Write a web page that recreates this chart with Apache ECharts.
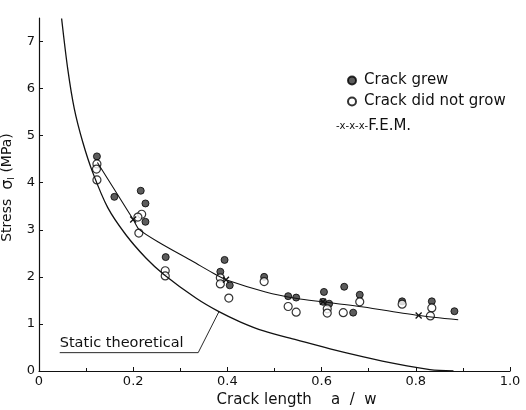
<!DOCTYPE html>
<html>
<head>
<meta charset="utf-8">
<script src="https://cdn.jsdelivr.net/npm/echarts@6/dist/echarts.min.js"></script>
<style>
  html, body { margin: 0; background: #fff; }
  #chart { width: 526px; height: 410px; }
</style>
</head>
<body>
<div id="chart"></div>
<script>
// crack grew (filled dots)
var grewA = [0.123, 0.160, 0.216, 0.226, 0.226, 0.269, 0.394, 0.385, 0.405, 0.478, 0.529, 0.546, 0.605, 0.603, 0.616, 0.648, 0.681, 0.667, 0.771, 0.834, 0.882]
var grewS = [4.56, 3.70, 3.83, 3.56, 3.17, 2.42, 2.36, 2.11, 1.82, 2.00, 1.59, 1.56, 1.68, 1.47, 1.43, 1.79, 1.62, 1.24, 1.48, 1.48, 1.27]
// crack did not grow (open dots)
var notA = [0.123, 0.122, 0.123, 0.218, 0.210, 0.212, 0.268, 0.268, 0.385, 0.385, 0.403, 0.478, 0.529, 0.546, 0.612, 0.612, 0.646, 0.681, 0.771, 0.834, 0.831]
var notS = [4.40, 4.29, 4.06, 3.33, 3.27, 2.93, 2.13, 2.02, 1.98, 1.85, 1.55, 1.90, 1.37, 1.25, 1.32, 1.23, 1.24, 1.47, 1.42, 1.34, 1.17]
// F.E.M. curve, x marks at femMarkA
var femA = [0.124, 0.200, 0.2125, 0.255, 0.326, 0.375, 0.397, 0.481, 0.548, 0.603, 0.689, 0.806, 0.890]
var femS = [4.43, 3.22, 3.01, 2.73, 2.33, 2.05, 1.94, 1.68, 1.54, 1.47, 1.36, 1.18, 1.09]
var femMarkA = [0.200, 0.397, 0.603, 0.806]
// static theoretical curve
var staticA = [0.048, 0.061, 0.075, 0.093, 0.114, 0.146, 0.184, 0.227, 0.265, 0.333, 0.382, 0.428, 0.477, 0.547, 0.618, 0.689, 0.759, 0.830, 0.880]
var staticS = [7.49, 6.42, 5.57, 4.86, 4.22, 3.47, 2.90, 2.40, 2.05, 1.55, 1.26, 1.04, 0.85, 0.66, 0.47, 0.30, 0.15, 0.03, 0.00]
// leader line for the "Static theoretical" label
var leaderA = [0.044, 0.338, 0.382]
var leaderS = [0.39, 0.39, 1.26]
var yTicks = [0, 1, 2, 3, 4, 5, 6, 7]

var font = 'DejaVu Sans'
var pairs = function (xs, ys) { return xs.map(function (x, i) { return [x, ys[i]] }) }

var chart = echarts.init(document.getElementById('chart'))
var option = {
  backgroundColor: '#fff',
  animation: false,
  textStyle: { fontFamily: font, color: '#111' },
  grid: { left: 39, right: 16, top: 18, bottom: 39, outerBoundsMode: 'none', containLabel: false },
  legend: [{
    data: ['Crack grew', 'Crack did not grow'],
    orient: 'vertical',
    left: 342,
    top: 68,
    itemWidth: 14,
    itemHeight: 8,
    itemGap: 6,
    textStyle: { fontFamily: font, fontSize: 15, color: '#111' }
  }, {
    data: [{ name: 'F.E.M.', icon: 'none' }],
    left: 326,
    top: 114,
    itemWidth: 0,
    formatter: '{s|-x-x-x-}{name}',
    textStyle: {
      fontFamily: font, fontSize: 15, color: '#111',
      rich: { s: { fontFamily: font, fontSize: 10, color: '#111' } }
    }
  }],
  xAxis: {
    type: 'value',
    min: 0,
    max: 1,
    interval: 0.2,
    name: 'Crack length    a  /  w',
    nameLocation: 'middle',
    nameGap: 12,
    nameTextStyle: { fontFamily: font, fontSize: 15, color: '#111', padding: [0, 0, 0, 44] },
    axisLine: { lineStyle: { color: '#111', width: 1.2 } },
    axisTick: { inside: true, length: 4, lineStyle: { color: '#111' } },
    minorTick: { show: true, splitNumber: 2, length: 3, lineStyle: { color: '#111' } },
    axisLabel: {
      margin: 4,
      fontFamily: font, fontSize: 13, color: '#111',
      formatter: function (v) { return v === 0 ? '0' : v.toFixed(1) }
    },
    splitLine: { show: false }
  },
  yAxis: {
    type: 'value',
    min: 0,
    max: 7.5,
    name: 'Stress  {g|σ}{sub|I} (MPa)',
    nameLocation: 'middle',
    nameRotate: 90,
    nameGap: 19,
    nameTextStyle: {
      fontFamily: font, fontSize: 14, color: '#111', padding: [0, 0, 0, 14],
      rich: { g: { fontFamily: font, fontSize: 16, color: '#111' }, sub: { fontFamily: font, fontSize: 9, color: '#111', verticalAlign: 'bottom' } }
    },
    axisLine: { show: true, lineStyle: { color: '#111', width: 1.2 } },
    axisTick: { show: true, inside: true, length: 4, customValues: yTicks, lineStyle: { color: '#111' } },
    axisLabel: { margin: 4, fontFamily: font, fontSize: 13, color: '#111', customValues: yTicks },
    splitLine: { show: false }
  },
  series: [{
    name: 'Static theoretical',
    type: 'line',
    data: pairs(staticA, staticS),
    smooth: 0.3,
    symbol: 'none',
    lineStyle: { color: '#111', width: 1.3 },
    silent: true
  }, {
    name: 'leader',
    type: 'line',
    data: pairs(leaderA, leaderS),
    symbol: 'none',
    lineStyle: { color: '#111', width: 0.9 },
    silent: true
  }, {
    name: 'F.E.M.',
    type: 'line',
    data: femA.map(function (a, i) {
      return femMarkA.indexOf(a) >= 0 ? { value: [a, femS[i]] } : { value: [a, femS[i]], symbol: 'none' }
    }),
    smooth: 0.25,
    symbol: 'path://M0,0L10,10M10,0L0,10',
    symbolSize: 6,
    showSymbol: true,
    itemStyle: { color: '#111', borderColor: '#111', borderWidth: 1.3 },
    lineStyle: { color: '#111', width: 1.1 }
  }, {
    name: 'Crack grew',
    type: 'scatter',
    data: pairs(grewA, grewS),
    symbol: 'circle',
    symbolSize: 7,
    itemStyle: { color: '#333', borderColor: '#000', borderWidth: 1 }
  }, {
    name: 'Crack did not grow',
    type: 'scatter',
    data: pairs(notA, notS),
    symbol: 'circle',
    symbolSize: 8,
    itemStyle: { color: '#fff', borderColor: '#000', borderWidth: 1.2 }
  }]
}
chart.setOption(option)

var p = chart.convertToPixel({ gridIndex: 0 }, [leaderA[0], leaderS[0]])
chart.setOption({
  graphic: [{
    type: 'text',
    x: p[0],
    y: p[1] - 2,
    style: { text: 'Static theoretical', font: '14.5px "DejaVu Sans"', fill: '#111', verticalAlign: 'bottom' }
  }]
})
</script>
</body>
</html>
